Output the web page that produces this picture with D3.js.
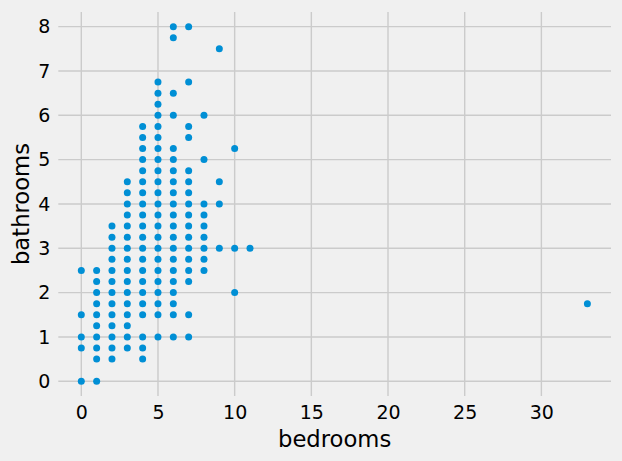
<!DOCTYPE html>
<html>
<head>
<meta charset="utf-8">
<script src="https://cdn.jsdelivr.net/npm/d3@7"></script>
<style>
  html, body { margin: 0; padding: 0; background: #f0f0f0; }
  svg { display: block; font-family: "DejaVu Sans", sans-serif; }
</style>
</head>
<body>
<svg id="chart" width="622" height="461"></svg>
<script>
// Data: bathroom values observed for each bedroom count
const bedrooms = [0, 1, 2, 3, 4, 5, 6, 7, 8, 9, 10, 11, 33];
const bathroomsByBedroom = [
  [0, 0.75, 1, 1.5, 2.5],
  [0, 0.5, 0.75, 1, 1.25, 1.5, 1.75, 2, 2.25, 2.5],
  [0.5, 0.75, 1, 1.25, 1.5, 1.75, 2, 2.25, 2.5, 2.75, 3, 3.25, 3.5],
  [0.75, 1, 1.25, 1.5, 1.75, 2, 2.25, 2.5, 2.75, 3, 3.25, 3.5, 3.75, 4, 4.25, 4.5],
  [0.5, 0.75, 1, 1.5, 1.75, 2, 2.25, 2.5, 2.75, 3, 3.25, 3.5, 3.75, 4, 4.25, 4.5, 4.75, 5, 5.25, 5.5, 5.75],
  [1, 1.5, 1.75, 2, 2.25, 2.5, 2.75, 3, 3.25, 3.5, 3.75, 4, 4.25, 4.5, 4.75, 5, 5.25, 5.5, 5.75, 6, 6.25, 6.5, 6.75],
  [1, 1.5, 1.75, 2, 2.25, 2.5, 2.75, 3, 3.25, 3.5, 3.75, 4, 4.25, 4.5, 4.75, 5, 5.25, 6, 6.5, 7.75, 8],
  [1, 1.5, 2.25, 2.5, 2.75, 3, 3.25, 3.5, 3.75, 4, 4.25, 4.5, 4.75, 5.5, 5.75, 6.75, 8],
  [2.5, 2.75, 3, 3.25, 3.5, 3.75, 4, 5, 6],
  [3, 4, 4.5, 7.5],
  [2, 3, 5.25],
  [3],
  [1.75]
];
const xTicks = [0, 5, 10, 15, 20, 25, 30];
const yTicks = [0, 1, 2, 3, 4, 5, 6, 7, 8];
const xLabel = "bedrooms";
const yLabel = "bathrooms";

const points = [];
bedrooms.forEach((b, i) => bathroomsByBedroom[i].forEach(v => points.push({ x: b, y: v })));

const svg = d3.select("#chart");
const plotLeft = 58.3, plotRight = 611, plotTop = 12, plotBottom = 396;

const x = d3.scaleLinear().domain([-1.5, 34.54]).range([plotLeft, plotRight]);
const y = d3.scaleLinear().domain([-0.332, 8.33]).range([plotBottom, plotTop]);

const gridColor = "#cbcbcb";

// Grid
svg.append("g").selectAll("line").data(xTicks).join("line")
  .attr("x1", d => x(d)).attr("x2", d => x(d))
  .attr("y1", plotTop).attr("y2", plotBottom)
  .attr("stroke", gridColor).attr("stroke-width", 1.4);
svg.append("g").selectAll("line").data(yTicks).join("line")
  .attr("y1", d => y(d)).attr("y2", d => y(d))
  .attr("x1", plotLeft).attr("x2", plotRight)
  .attr("stroke", gridColor).attr("stroke-width", 1.4);

// Axes (labels only, using d3 axes)
const xAxis = svg.append("g").attr("transform", `translate(0,${plotBottom})`)
  .call(d3.axisBottom(x).tickValues(xTicks).tickSize(0).tickPadding(8).tickFormat(d3.format("d")));
const yAxis = svg.append("g").attr("transform", `translate(${plotLeft},0)`)
  .call(d3.axisLeft(y).tickValues(yTicks).tickSize(0).tickPadding(8).tickFormat(d3.format("d")));
[xAxis, yAxis].forEach(g => {
  g.select(".domain").remove();
  g.selectAll("text").attr("font-family", "DejaVu Sans").attr("font-size", 19).attr("fill", "#000");
});
xAxis.selectAll("text").attr("dy", null).attr("y", 23);

// Points
svg.append("g").selectAll("circle").data(points).join("circle")
  .attr("cx", d => x(d.x)).attr("cy", d => y(d.y))
  .attr("r", 3.5).attr("fill", "#008fd5");

// Axis titles
svg.append("text").attr("x", (plotLeft + plotRight) / 2).attr("y", 446.5)
  .attr("text-anchor", "middle").attr("font-size", 22.7).attr("fill", "#000")
  .text(xLabel);
svg.append("text")
  .attr("transform", `translate(29,${(plotTop + plotBottom) / 2}) rotate(-90)`)
  .attr("text-anchor", "middle").attr("font-size", 22.7).attr("fill", "#000")
  .text(yLabel);
</script>
</body>
</html>
